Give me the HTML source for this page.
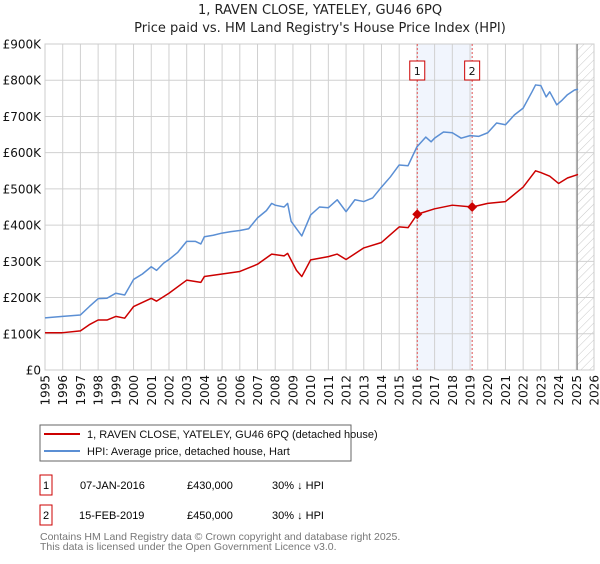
<!DOCTYPE html>
<html><head><meta charset="utf-8"><style>
body{margin:0;background:#fff;font-family:"DejaVu Sans","Liberation Sans",sans-serif;}
svg text{font-family:"DejaVu Sans","Liberation Sans",sans-serif;}
svg text.lib{font-family:"Liberation Sans","DejaVu Sans",sans-serif;}
</style></head><body>
<svg id="c" width="600" height="560" xmlns="http://www.w3.org/2000/svg">
<defs><pattern id="hatch" width="6" height="6" patternUnits="userSpaceOnUse" patternTransform="rotate(45)"><line x1="0" y1="0" x2="0" y2="6" stroke="#bbb" stroke-width="0.8"/></pattern></defs>
<text x="320" y="14" font-size="13" text-anchor="middle" fill="#222">1, RAVEN CLOSE, YATELEY, GU46 6PQ</text>
<text x="320" y="32" font-size="13" text-anchor="middle" fill="#222">Price paid vs. HM Land Registry's House Price Index (HPI)</text>
<g id="grid"></g><g id="marks"></g><g id="axes"></g>
<rect x="40" y="425" width="311" height="36" fill="#fff" stroke="#666"/>
<line x1="44" y1="434" x2="80" y2="434" stroke="#cc0000" stroke-width="2"/>
<text class="lib" x="87" y="438" font-size="11" fill="#111">1, RAVEN CLOSE, YATELEY, GU46 6PQ (detached house)</text>
<line x1="44" y1="451" x2="80" y2="451" stroke="#5b8fd4" stroke-width="2"/>
<text class="lib" x="87" y="455" font-size="11" fill="#111">HPI: Average price, detached house, Hart</text>
<g>
<rect x="40" y="475" width="12" height="20" fill="#fff" stroke="#cc0000"/><text class="lib" x="46" y="489" font-size="11" text-anchor="middle">1</text>
<text class="lib" x="80" y="489" font-size="11">07-JAN-2016</text><text class="lib" x="187" y="489" font-size="11">£430,000</text><text class="lib" x="272" y="489" font-size="11">30% ↓ HPI</text></g>
<g>
<rect x="40" y="505" width="12" height="20" fill="#fff" stroke="#cc0000"/><text class="lib" x="46" y="519" font-size="11" text-anchor="middle">2</text>
<text class="lib" x="79" y="519" font-size="11">15-FEB-2019</text><text class="lib" x="187" y="519" font-size="11">£450,000</text><text class="lib" x="272" y="519" font-size="11">30% ↓ HPI</text></g>
<text class="lib" x="40" y="540" font-size="10.5" fill="#777">Contains HM Land Registry data © Crown copyright and database right 2025.</text>
<text class="lib" x="40" y="550" font-size="10.5" fill="#777">This data is licensed under the Open Government Licence v3.0.</text>
</svg>
<script>
const hpiYears=[1995,1996,1997,1997.5,1998,1998.5,1999,1999.5,2000,2000.5,2001,2001.3,2001.7,2002,2002.5,2003,2003.5,2003.8,2004,2004.5,2005,2005.5,2006,2006.5,2007,2007.5,2007.8,2008,2008.5,2008.7,2008.9,2009.2,2009.5,2010,2010.5,2011,2011.5,2012,2012.5,2013,2013.5,2014,2014.5,2015,2015.5,2016,2016.5,2016.8,2017,2017.5,2018,2018.5,2019,2019.5,2020,2020.5,2021,2021.5,2022,2022.5,2022.7,2023,2023.3,2023.5,2023.9,2024.2,2024.5,2024.9,2025.1];
const hpiValues=[144,148,152,175,197,198,212,207,250,265,285,275,295,305,325,355,355,348,368,372,378,382,385,390,420,440,460,455,450,460,410,390,370,428,450,448,470,437,470,465,475,505,533,566,564,616,643,630,640,657,655,640,647,645,655,682,677,704,723,768,787,785,754,768,732,745,760,773,775];
const ppYears=[1995,1996,1997,1997.5,1998,1998.5,1999,1999.5,2000,2001,2001.3,2002,2003,2003.8,2004,2005,2006,2007,2007.8,2008.5,2008.7,2009.2,2009.5,2010,2011,2011.5,2012,2013,2014,2015,2015.5,2016.02,2017,2018,2019.12,2020,2021,2022,2022.7,2023,2023.5,2024,2024.5,2025.1];
const ppValues=[103,103,108,125,138,138,148,143,175,198,190,212,248,242,258,265,272,292,320,315,322,275,258,304,313,320,305,337,352,395,393,430,445,455,450,460,465,505,550,545,535,515,530,540];
const saleYears=[2016.02,2019.12];
const saleValues=[430,450];
const yTicks=[0,100,200,300,400,500,600,700,800,900];
const yTickLabels=["£0","£100K","£200K","£300K","£400K","£500K","£600K","£700K","£800K","£900K"];
const xTicks=[1995,1996,1997,1998,1999,2000,2001,2002,2003,2004,2005,2006,2007,2008,2009,2010,2011,2012,2013,2014,2015,2016,2017,2018,2019,2020,2021,2022,2023,2024,2025,2026];
const X0=45,X1=594,Y0=370,Y1=44;
const sx=y=>X0+(y-1995)/(2026-1995)*(X1-X0);
const sy=v=>Y0-v/900*(Y0-Y1);
const NS="http://www.w3.org/2000/svg";
function mk(p,t,a){const e=document.createElementNS(NS,t);for(const k in a)e.setAttribute(k,a[k]);p.appendChild(e);return e;}
const grid=document.getElementById('grid'),marks=document.getElementById('marks'),axes=document.getElementById('axes');
mk(grid,'rect',{x:X0,y:Y1,width:X1-X0,height:Y0-Y1,fill:'#fff'});
const band=mk(grid,'rect',{x:sx(saleYears[0]),y:Y1,width:sx(saleYears[1])-sx(saleYears[0]),height:Y0-Y1,fill:'#eef3fc',opacity:0.8});


const hz=mk(grid,'rect',{x:sx(2025.05),y:Y1,width:X1-sx(2025.05),height:Y0-Y1,fill:'url(#hatch)'});


xTicks.forEach(t=>{mk(grid,'line',{x1:sx(t),x2:sx(t),y1:Y1,y2:Y0,stroke:'#d0d0d0'});
 const tx=mk(axes,'text',{x:0,y:0,'font-size':12,'text-anchor':'end',transform:`translate(${sx(t)+4.5},${Y0+5}) rotate(-90)`,fill:'#111'});
 tx.textContent=t;
 
 });
yTicks.forEach((t,i)=>{mk(grid,'line',{x1:X0,x2:X1,y1:sy(t),y2:sy(t),stroke:'#d0d0d0'});
 const tx=mk(axes,'text',{x:X0-4,y:sy(t)+4.5,'font-size':12,'text-anchor':'end',fill:'#111'});
 tx.textContent=yTickLabels[i];
 
 });
mk(grid,'rect',{x:X0,y:Y1,width:X1-X0,height:Y0-Y1,fill:'none',stroke:'#ccc'});
mk(grid,'line',{x1:sx(2025.05),x2:sx(2025.05),y1:Y1,y2:Y0,stroke:'#888','stroke-width':1.2});
saleYears.forEach((y,i)=>{const l=mk(marks,'line',{x1:sx(y),x2:sx(y),y1:Y1,y2:Y0,stroke:'#e05050','stroke-dasharray':'2,2','stroke-width':1});
 
 
 const r=mk(marks,'rect',{x:sx(y)-7.5,y:61,width:15,height:19,fill:'#fff',stroke:'#cc0000'});
 
 
 const t=mk(marks,'text',{x:sx(y),y:75,'font-size':11,'text-anchor':'middle',fill:'#111'});t.textContent=String(i+1);});
function line(xs,vs,c,n){const p=mk(marks,'polyline',{points:xs.map((x,i)=>sx(x)+','+sy(vs[i])).join(' '),fill:'none',stroke:c,'stroke-width':1.5,'stroke-linejoin':'round'});
 
 }
line(hpiYears,hpiValues,'#5b8fd4','hpi-line');
line(ppYears,ppValues,'#cc0000','property-price-line');
saleYears.forEach((y,i)=>{const d=mk(marks,'path',{d:`M${sx(y)},${sy(saleValues[i])-5}l5,5l-5,5l-5,-5z`,fill:'#cc0000'});
 
 });
</script>
</body></html>
